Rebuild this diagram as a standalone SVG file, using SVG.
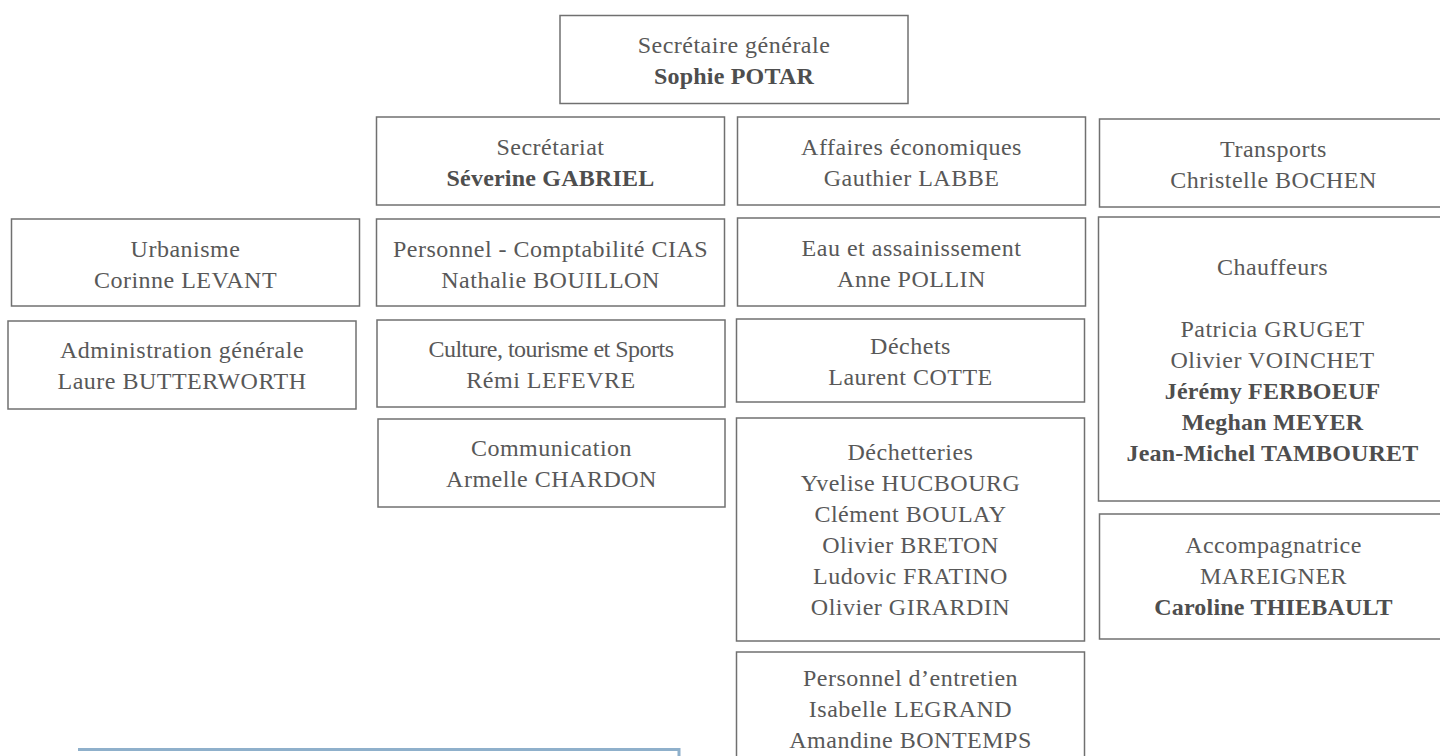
<svg xmlns="http://www.w3.org/2000/svg" width="1440" height="756" viewBox="0 0 1440 756">
<style>
  .box { fill: #ffffff; stroke: #707070; stroke-width: 1.5; }
  text { font-family: "Liberation Serif", "Times New Roman", serif; font-size: 24px; fill: #585858; text-anchor: middle; letter-spacing: 0.5px; }
  .b { font-weight: bold; fill: #4e4e4e; letter-spacing: 0.2px; }
  .cond { letter-spacing: -0.5px; }
  .frame { fill: none; stroke: #8fb0cb; stroke-width: 3; }
</style>
<rect x="0" y="0" width="1440" height="756" fill="#ffffff"/>

<g id="secretaire-generale">
  <rect class="box" x="560" y="15.5" width="348" height="88"/>
  <text x="734" y="53">Secrétaire générale</text>
  <text class="b" x="734" y="84">Sophie POTAR</text>
</g>

<g id="secretariat">
  <rect class="box" x="376.5" y="117" width="348" height="88"/>
  <text x="550.5" y="155">Secrétariat</text>
  <text class="b" x="550.5" y="186">Séverine GABRIEL</text>
</g>

<g id="affaires-economiques">
  <rect class="box" x="737.5" y="117" width="348" height="88"/>
  <text x="911.5" y="155">Affaires économiques</text>
  <text x="911.5" y="186">Gauthier LABBE</text>
</g>

<g id="transports">
  <rect class="box" x="1099.5" y="119" width="348" height="88"/>
  <text x="1273.5" y="157">Transports</text>
  <text x="1273.5" y="188">Christelle BOCHEN</text>
</g>

<g id="urbanisme">
  <rect class="box" x="11.5" y="219" width="348" height="87"/>
  <text x="185.5" y="257">Urbanisme</text>
  <text x="185.5" y="288">Corinne LEVANT</text>
</g>

<g id="personnel-comptabilite">
  <rect class="box" x="376.5" y="219" width="348" height="87"/>
  <text x="550.5" y="257">Personnel - Comptabilité CIAS</text>
  <text x="550.5" y="288">Nathalie BOUILLON</text>
</g>

<g id="eau-assainissement">
  <rect class="box" x="737.5" y="218" width="348" height="88"/>
  <text x="911.5" y="256">Eau et assainissement</text>
  <text x="911.5" y="287">Anne POLLIN</text>
</g>

<g id="chauffeurs">
  <rect class="box" x="1098.5" y="217" width="348" height="284"/>
  <text x="1272.5" y="275">Chauffeurs</text>
  <text x="1272.5" y="337">Patricia GRUGET</text>
  <text x="1272.5" y="368">Olivier VOINCHET</text>
  <text class="b" x="1272.5" y="399">Jérémy FERBOEUF</text>
  <text class="b" x="1272.5" y="430">Meghan MEYER</text>
  <text class="b" x="1272.5" y="461">Jean-Michel TAMBOURET</text>
</g>

<g id="administration-generale">
  <rect class="box" x="8" y="321" width="348" height="88"/>
  <text x="182" y="358">Administration générale</text>
  <text x="182" y="389">Laure BUTTERWORTH</text>
</g>

<g id="culture-tourisme-sports">
  <rect class="box" x="377" y="320" width="348" height="87"/>
  <text class="cond" x="551" y="357">Culture, tourisme et Sports</text>
  <text x="551" y="388">Rémi LEFEVRE</text>
</g>

<g id="dechets">
  <rect class="box" x="736.5" y="319" width="348" height="83"/>
  <text x="910.5" y="354">Déchets</text>
  <text x="910.5" y="385">Laurent COTTE</text>
</g>

<g id="communication">
  <rect class="box" x="378" y="419" width="347" height="88"/>
  <text x="551.5" y="456">Communication</text>
  <text x="551.5" y="487">Armelle CHARDON</text>
</g>

<g id="dechetteries">
  <rect class="box" x="736.5" y="418" width="348" height="223"/>
  <text x="910.5" y="460">Déchetteries</text>
  <text x="910.5" y="491">Yvelise HUCBOURG</text>
  <text x="910.5" y="522">Clément BOULAY</text>
  <text x="910.5" y="553">Olivier BRETON</text>
  <text x="910.5" y="584">Ludovic FRATINO</text>
  <text x="910.5" y="615">Olivier GIRARDIN</text>
</g>

<g id="accompagnatrice">
  <rect class="box" x="1099.5" y="514" width="348" height="125"/>
  <text x="1273.5" y="553">Accompagnatrice</text>
  <text x="1273.5" y="584">MAREIGNER</text>
  <text class="b" x="1273.5" y="615">Caroline THIEBAULT</text>
</g>

<g id="personnel-entretien">
  <rect class="box" x="736.5" y="652" width="348" height="130"/>
  <text x="910.5" y="686">Personnel d’entretien</text>
  <text x="910.5" y="717">Isabelle LEGRAND</text>
  <text x="910.5" y="748">Amandine BONTEMPS</text>
</g>

<g id="connectors"></g>

<g id="bottom-frame">
  <path class="frame" d="M78,749.5 H679 V760"/>
</g>
</svg>
